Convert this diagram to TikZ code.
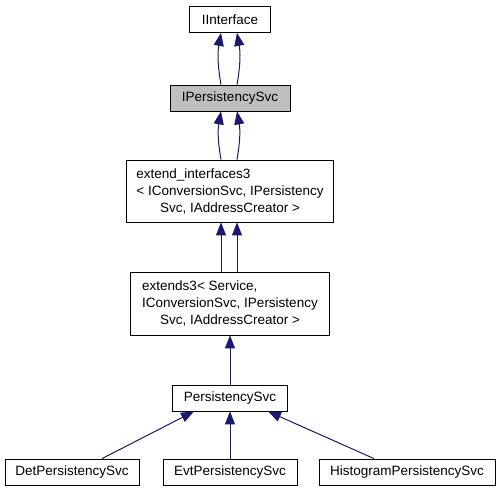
\documentclass[tikz,border=0pt]{standalone}
\usepackage{fontspec}
\setmainfont{Liberation Sans}
\usetikzlibrary{positioning, arrows.meta}
\definecolor{navyline}{RGB}{25,25,112}
\definecolor{focusgrey}{RGB}{191,191,191}

\begin{document}
\begin{tikzpicture}[x=1pt, y=-1pt, node distance=2cm, on grid,
    cls/.style={draw, line width=0.8pt, inner sep=0pt, minimum height=26pt,
      align=left, font=\fontsize{13.5}{17}\selectfont},
    inh/.style={color=navyline, line width=1pt, -{Triangle[length=13pt,width=10pt]}}]
    \useasboundingbox[fill=white] (0,0) rectangle (499,496);
    % Define classes
    \node[cls, minimum width=81pt] (iif) at (230,19.5) {IInterface};
    \node[cls, minimum width=120pt, fill=focusgrey] (ipsvc) [below=78.5pt of iif] {IPersistencySvc};
    \node[cls, minimum width=207pt, minimum height=62pt] (extif) [below=93pt of ipsvc]
        {extend\_interfaces3\\< IConversionSvc, IPersistency\\\hfil Svc, IAddressCreator >};
    \node[cls, minimum width=199pt, minimum height=63pt] (ext3) [below=112.5pt of extif]
        {extends3< Service,\\ IConversionSvc, IPersistency\\\hfil Svc, IAddressCreator >};
    \node[cls, minimum width=115pt] (psvc) [below=94.5pt of ext3] {PersistencySvc};
    \node[cls, minimum width=134pt] (evt) [below=74pt of psvc] {EvtPersistencySvc};
    \node[cls, minimum width=134pt] (det) [left=158pt of evt] {DetPersistencySvc};
    \node[cls, minimum width=176pt] (hist) [right=177pt of evt] {HistogramPersistencySvc};

    % Define inheritance
    \path[inh]
    ([xshift=-9pt]ipsvc.north) edge[bend left=10] ([xshift=-9pt]iif.south)
        ([xshift=7pt]ipsvc.north) edge[bend right=10] ([xshift=7pt]iif.south)
    ([xshift=-9pt]extif.north) edge[bend left=10] ([xshift=-9pt]ipsvc.south)
        ([xshift=7pt]extif.north) edge[bend right=10] ([xshift=7pt]ipsvc.south)
    ([xshift=-9pt]ext3.north) edge ([xshift=-9pt]extif.south)
        ([xshift=7pt]ext3.north) edge ([xshift=7pt]extif.south)
    (psvc.north) edge (ext3.south)
    ([xshift=30pt]det.north) edge ([xshift=-36pt]psvc.south)
        (evt.north) edge (psvc.south)
        ([xshift=-33pt]hist.north) edge ([xshift=38pt]psvc.south);
\end{tikzpicture}
\end{document}
